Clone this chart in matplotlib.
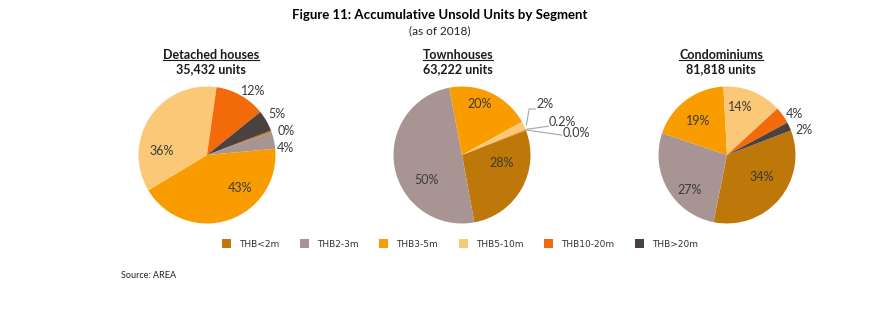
import matplotlib.pyplot as plt
from matplotlib.lines import Line2D

# unsold units share (%) by price segment
segments = ['THB<2m', 'THB2-3m', 'THB3-5m', 'THB5-10m', 'THB10-20m', 'THB>20m']
colors = ['#BE780A', '#A99494', '#F99C00', '#FBC878', '#F36A0A', '#4B4141']

titles = ['Detached houses', 'Townhouses', 'Condominiums']
units = [35432, 63222, 81818]

detached = [0.4, 4, 43, 36, 12, 5]
townhouse = [28, 50, 20, 2, 0.2, 0.0]
condo = [34, 27, 19, 14, 4, 2]

# label layout, in pie-radius units from the centre
lbl_detached = [(1.16, 0.35), (1.15, 0.10), (0.48, -0.48), (-0.66, 0.06), (0.67, 0.93), (1.02, 0.60)]
lbl_townhouse = [(0.58, -0.12), (-0.52, -0.36), (0.26, 0.74), (1.21, 0.74), (1.47, 0.48), (1.67, 0.32)]
lbl_condo = [(0.51, -0.32), (-0.54, -0.51), (-0.42, 0.50), (0.19, 0.70), (0.98, 0.60), (1.12, 0.36)]

# leader lines for the tiny townhouse slices
leaders = {3: [(0.94, 0.44), (0.98, 0.67), (1.07, 0.67)],
           4: [(0.94, 0.375), (1.26, 0.42)],
           5: [(0.94, 0.365), (1.46, 0.29)]}

W, H = 870, 327
fig = plt.figure(figsize=(8.7, 3.27), dpi=100)
fig.patch.set_facecolor('white')

centres = [(207, 155), (462, 155), (727, 155)]
R = 68.5
head_x = [211, 458, 721]

def fmt(v, small_dec):
    if small_dec and v < 1:
        return '{:.1f}%'.format(v)
    return '{:.0f}%'.format(v)

datasets = [(detached, lbl_detached, False), (townhouse, lbl_townhouse, True), (condo, lbl_condo, False)]

wedges_for_legend = None
for i, (vals, lpos, small_dec) in enumerate(datasets):
    cx, cy = centres[i]
    ax = fig.add_axes([(cx - R) / W, 1 - (cy + R) / H, 2 * R / W, 2 * R / H])
    wedges, _ = ax.pie(vals, colors=colors, startangle=21, counterclock=False,
                       radius=1, wedgeprops=dict(linewidth=0))
    if wedges_for_legend is None:
        wedges_for_legend = wedges
    ax.set_xlim(-1, 1)
    ax.set_ylim(-1, 1)
    ax.axis('off')
    for j, v in enumerate(vals):
        x, y = lpos[j]
        ax.text(x, y, fmt(v, small_dec), ha='center', va='center', fontsize=9,
                color='#3a3a3a', family='Lato', clip_on=False)
    if i == 1:
        for pts in leaders.values():
            xs = [p[0] for p in pts]
            ys = [p[1] for p in pts]
            ax.add_line(Line2D(xs, ys, color='#A6A6A6', lw=0.8, clip_on=False))

    # segment heading, underlined
    hx = head_x[i] / W
    t = fig.text(hx, 1 - 55 / H, titles[i], ha='center', va='center', fontsize=9,
                 fontweight='bold', family='Lato', color='#1a1a1a')
    fig.text(hx, 1 - 69.5 / H, '{:,} units'.format(units[i]), ha='center', va='center',
             fontsize=9, fontweight='bold', family='Lato', color='#1a1a1a')
    fig.canvas.draw()
    bb = t.get_window_extent().transformed(fig.transFigure.inverted())
    fig.add_artist(Line2D([bb.x0, bb.x1], [bb.y0 + 0.002, bb.y0 + 0.002],
                          transform=fig.transFigure, color='#1a1a1a', lw=0.8))

fig.text(440 / W, 1 - 15 / H, 'Figure 11: Accumulative Unsold Units by Segment',
         ha='center', va='center', fontsize=9.5, fontweight='bold', family='Lato', color='black')
fig.text(440 / W, 1 - 31 / H, '(as of 2018)', ha='center', va='center',
         fontsize=8.5, family='Lato', color='#222222')

fig.legend(wedges_for_legend, segments, loc='center', bbox_to_anchor=(460 / W, 1 - 244 / H),
           ncol=6, frameon=False, fontsize=6.5, handlelength=1.0, handleheight=1.0,
           handletextpad=0.9, columnspacing=2.3, labelcolor='#333333')

fig.text(121 / W, 1 - 276 / H, 'Source: AREA', ha='left', va='center', fontsize=6.5,
         family='Lato', color='#222222')

fig.savefig('out.png', dpi=100, facecolor='white')
